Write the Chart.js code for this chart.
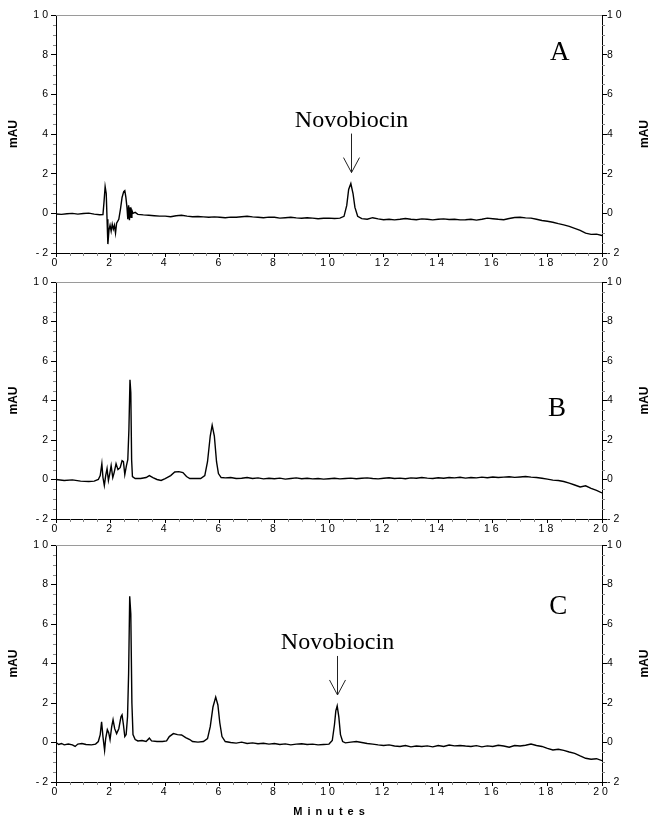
<!DOCTYPE html>
<html>
<head>
<meta charset="utf-8">
<script src="https://cdn.jsdelivr.net/npm/chart.js@4.4.1/dist/chart.umd.min.js"></script>
<style>
  html, body { margin: 0; padding: 0; background: #fff; }
  #wrap { position: relative; width: 649px; height: 821px; overflow: hidden; }
  #wrap canvas { position: absolute; left: 0; }
</style>
</head>
<body>
<div id="wrap">
  <canvas id="panelA" width="649" height="280" style="top:0px"></canvas>
  <canvas id="panelB" width="649" height="279" style="top:267px"></canvas>
  <canvas id="panelC" width="649" height="291" style="top:530px"></canvas>
</div>
<script>
// axis ticks
const xTicks = [0, 2, 4, 6, 8, 10, 12, 14, 16, 18, 20];
const yTicks = [-2, 0, 2, 4, 6, 8, 10];
const panelLabels = ['A', 'B', 'C'];
const peakName = 'Novobiocin';
const axisTitle = 'mAU';
const xTitle = 'Minutes';

// trace A (minutes / mAU)
const timesA = [
  0, 0.2, 0.4, 0.6, 0.8, 1.0, 1.2, 1.4, 1.6, 1.72,
  1.76, 1.8, 1.84, 1.87, 1.9, 1.94, 1.98, 2.02, 2.06, 2.1,
  2.14, 2.18, 2.22, 2.3, 2.36, 2.42, 2.48, 2.52, 2.56, 2.6,
  2.63, 2.66, 2.69, 2.72, 2.75, 2.78, 2.82, 2.9, 3.0, 3.2,
  3.4, 3.6, 3.8, 4.0, 4.2, 4.4, 4.6, 4.8, 5.0, 5.2,
  5.4, 5.6, 5.8, 6.0, 6.2, 6.4, 6.6, 6.8, 7.0, 7.2,
  7.4, 7.6, 7.8, 8.0, 8.2, 8.4, 8.6, 8.8, 9.0, 9.2,
  9.4, 9.6, 9.8, 10.0, 10.2, 10.4, 10.55, 10.65, 10.72, 10.8,
  10.88, 10.95, 11.05, 11.2, 11.4, 11.6, 11.8, 12.0, 12.2, 12.4,
  12.6, 12.8, 13.0, 13.2, 13.4, 13.6, 13.8, 14.0, 14.2, 14.4,
  14.6, 14.8, 15.0, 15.2, 15.4, 15.6, 15.8, 16.0, 16.2, 16.4,
  16.6, 16.8, 17.0, 17.2, 17.4, 17.6, 17.8, 18.0, 18.2, 18.4,
  18.6, 18.8, 19.0, 19.2, 19.4, 19.6, 19.8, 20.0
];
const valuesA = [
  -0.03, -0.05, -0.02, 0.0, -0.04, -0.01, 0.01, -0.04, -0.07, -0.06,
  0.6, 1.35, 1.0, -0.3, -1.55, -0.85, -0.6, -0.9, -0.55, -0.8,
  -0.6, -1.0, -0.5, -0.3, 0.2, 0.8, 1.1, 1.15, 0.8, 0.3,
  -0.3, 0.4, -0.35, 0.3, -0.2, 0.15, 0.0, 0.05, -0.05, -0.08,
  -0.1, -0.12, -0.14, -0.14, -0.17, -0.12, -0.1, -0.14, -0.17, -0.16,
  -0.18, -0.2, -0.18, -0.2, -0.22, -0.19, -0.2, -0.17, -0.15, -0.18,
  -0.2, -0.22, -0.19, -0.2, -0.24, -0.22, -0.2, -0.23, -0.25, -0.22,
  -0.24, -0.27, -0.25, -0.24, -0.26, -0.24, -0.15, 0.4, 1.2, 1.5,
  1.0, 0.3, -0.15, -0.27, -0.3, -0.22, -0.28, -0.32, -0.3, -0.33,
  -0.3, -0.26, -0.3, -0.32, -0.28, -0.3, -0.33, -0.3, -0.28, -0.31,
  -0.3, -0.33, -0.32, -0.3, -0.34, -0.3, -0.24, -0.27, -0.3, -0.32,
  -0.26, -0.21, -0.2, -0.23, -0.24, -0.3, -0.36, -0.4, -0.45, -0.52,
  -0.58, -0.66, -0.76, -0.86, -1.0, -1.06, -1.05, -1.12
];

// trace B
const timesB = [
  0, 0.3, 0.6, 0.9, 1.2, 1.4, 1.55, 1.62, 1.68, 1.72,
  1.77, 1.82, 1.87, 1.92, 1.97, 2.02, 2.08, 2.13, 2.2, 2.27,
  2.35, 2.42, 2.47, 2.52, 2.58, 2.63, 2.67, 2.71, 2.74, 2.77,
  2.8, 2.9, 3.1, 3.3, 3.42, 3.55, 3.7, 3.85, 4.0, 4.2,
  4.35, 4.5, 4.65, 4.78, 4.9, 5.1, 5.3, 5.45, 5.55, 5.65,
  5.72, 5.8, 5.88, 5.95, 6.05, 6.2, 6.4, 6.6, 6.8, 7.0,
  7.2, 7.4, 7.6, 7.8, 8.0, 8.2, 8.4, 8.6, 8.8, 9.0,
  9.2, 9.4, 9.6, 9.8, 10.0, 10.2, 10.4, 10.6, 10.8, 11.0,
  11.2, 11.4, 11.6, 11.8, 12.0, 12.2, 12.4, 12.6, 12.8, 13.0,
  13.2, 13.4, 13.6, 13.8, 14.0, 14.2, 14.4, 14.6, 14.8, 15.0,
  15.2, 15.4, 15.6, 15.8, 16.0, 16.2, 16.4, 16.6, 16.8, 17.0,
  17.2, 17.4, 17.6, 17.8, 18.0, 18.2, 18.4, 18.6, 18.8, 19.0,
  19.2, 19.4, 19.6, 19.8, 20.0
];
const valuesB = [
  0.0, -0.05, -0.02, -0.08, -0.1, -0.08, 0.0, 0.2, 0.8, 0.1,
  -0.3, 0.2, 0.55, -0.05, 0.3, 0.7, 0.1, 0.35, 0.8, 0.5,
  0.6, 0.95, 0.9, 0.25, 0.7, 1.0, 2.5, 5.05, 4.4, 1.0,
  0.15, 0.05, 0.05, 0.1, 0.2, 0.1, 0.0, -0.05, 0.05, 0.2,
  0.38, 0.4, 0.35, 0.15, 0.05, 0.05, 0.05, 0.2, 0.9, 2.2,
  2.75, 2.2, 0.9, 0.3, 0.1, 0.08, 0.1, 0.05, 0.06, 0.1,
  0.05, 0.08, 0.03, 0.06, 0.04, 0.07, 0.02, 0.05, 0.08, 0.04,
  0.06, 0.03, 0.05, 0.02, 0.04, 0.06, 0.03, 0.05, 0.07, 0.04,
  0.06, 0.08, 0.05, 0.03, 0.06, 0.09, 0.05, 0.07, 0.04, 0.08,
  0.06, 0.1, 0.07, 0.05, 0.09, 0.06, 0.1, 0.08, 0.11, 0.07,
  0.1, 0.08, 0.12, 0.09, 0.13, 0.1, 0.12, 0.14, 0.11, 0.13,
  0.15, 0.12, 0.1, 0.06, 0.02, -0.03, -0.05, -0.1, -0.18, -0.28,
  -0.38, -0.32, -0.45, -0.55, -0.68
];

// trace C
const timesC = [
  0, 0.1, 0.2, 0.3, 0.45, 0.6, 0.7, 0.8, 0.95, 1.1,
  1.3, 1.45, 1.55, 1.62, 1.67, 1.72, 1.78, 1.82, 1.88, 1.93,
  1.98, 2.04, 2.09, 2.15, 2.22, 2.3, 2.38, 2.42, 2.47, 2.52,
  2.57, 2.62, 2.66, 2.7, 2.74, 2.78, 2.82, 2.9, 3.0, 3.15,
  3.3, 3.42, 3.5, 3.7, 3.9, 4.05, 4.15, 4.3, 4.45, 4.6,
  4.75, 4.9, 5.0, 5.2, 5.4, 5.55, 5.65, 5.75, 5.85, 5.93,
  6.0, 6.08, 6.2, 6.4, 6.6, 6.8, 7.0, 7.2, 7.4, 7.6,
  7.8, 8.0, 8.2, 8.4, 8.6, 8.8, 9.0, 9.2, 9.4, 9.6,
  9.8, 10.0, 10.12, 10.2, 10.25, 10.3, 10.36, 10.42, 10.5, 10.6,
  10.8, 11.0, 11.2, 11.4, 11.6, 11.8, 12.0, 12.2, 12.4, 12.6,
  12.8, 13.0, 13.2, 13.4, 13.6, 13.8, 14.0, 14.2, 14.4, 14.6,
  14.8, 15.0, 15.2, 15.4, 15.6, 15.8, 16.0, 16.2, 16.4, 16.6,
  16.8, 17.0, 17.2, 17.4, 17.6, 17.8, 18.0, 18.2, 18.4, 18.6,
  18.8, 19.0, 19.2, 19.4, 19.6, 19.8, 20.0
];
const valuesC = [
  0.0, -0.1, -0.05, -0.12, -0.08, -0.12, -0.2, -0.08, -0.05, -0.1,
  -0.12, -0.08, 0.05, 0.4, 1.05, 0.3, -0.4, 0.2, 0.65, 0.5,
  0.15, 0.8, 1.15, 0.7, 0.45, 0.7, 1.3, 1.4, 0.9, 0.3,
  0.4, 1.3, 3.5, 7.4, 6.5, 2.0, 0.4, 0.15, 0.08, 0.1,
  0.05, 0.22, 0.08, 0.05, 0.05, 0.08, 0.3, 0.45, 0.4, 0.38,
  0.25, 0.15, 0.05, 0.02, 0.05, 0.2, 0.8, 1.8, 2.3, 1.9,
  1.0, 0.3, 0.05, 0.0, -0.03, 0.02, -0.05, -0.02, -0.06, -0.04,
  -0.08, -0.05, -0.1, -0.07, -0.12, -0.08, -0.06, -0.1, -0.08, -0.12,
  -0.1, -0.08, 0.1, 0.9, 1.6, 1.85, 1.3, 0.4, 0.05, -0.02,
  0.02, 0.05, 0.0, -0.05, -0.08, -0.12, -0.15, -0.12, -0.18, -0.2,
  -0.15, -0.22, -0.18, -0.2, -0.17, -0.22, -0.15, -0.2, -0.13, -0.17,
  -0.15, -0.18, -0.2, -0.16, -0.22, -0.17, -0.2, -0.14, -0.18, -0.24,
  -0.15, -0.18, -0.14, -0.08, -0.15, -0.2, -0.3, -0.38, -0.34, -0.4,
  -0.48, -0.55, -0.68, -0.8, -0.85, -0.82, -0.92
];

// peak marked by the arrow (minutes, mAU)
const markA = { t: 10.8, v: 1.5 };
const markC = { t: 10.3, v: 1.85 };

const SANS = '"Liberation Sans", Arial, sans-serif';
const SERIF = '"Liberation Serif", "Times New Roman", serif';

const toPoints = (ts, vs) => ts.map((t, i) => ({ x: t, y: vs[i] }));

// frame extras: grey top line, minor ticks, titles, panel letter, peak arrow
const decorPlugin = {
  id: 'decor',
  beforeDraw(chart) {
    chart.ctx.letterSpacing = '3px';
  },
  afterDraw(chart, args, opts) {
    const { ctx, chartArea: area } = chart;
    const x = chart.scales.x, y = chart.scales.y;
    ctx.save();
    ctx.letterSpacing = '0px';

    ctx.lineWidth = 1;
    ctx.strokeStyle = '#9a9a9a';
    ctx.beginPath();
    ctx.moveTo(area.left, area.top + 0.5);
    ctx.lineTo(area.right, area.top + 0.5);
    ctx.stroke();

    // minor ticks every 0.5
    ctx.strokeStyle = '#888';
    ctx.beginPath();
    for (let v = yTicks[0]; v <= yTicks[yTicks.length - 1]; v += 0.5) {
      if (v % 2 === 0) continue;
      const py = Math.round(y.getPixelForValue(v)) + 0.5;
      ctx.moveTo(area.left - 3, py); ctx.lineTo(area.left, py);
      ctx.moveTo(area.right, py); ctx.lineTo(area.right + 3, py);
    }
    for (let t = xTicks[0]; t <= xTicks[xTicks.length - 1]; t += 0.5) {
      if (t % 2 === 0) continue;
      const px = Math.round(x.getPixelForValue(t)) + 0.5;
      ctx.moveTo(px, area.bottom); ctx.lineTo(px, area.bottom + 3);
    }
    ctx.stroke();

    // mAU on both sides
    ctx.fillStyle = '#000';
    ctx.font = 'bold 12px ' + SANS;
    ctx.textAlign = 'center';
    ctx.textBaseline = 'middle';
    const midY = (area.top + area.bottom) / 2;
    [14, 645].forEach(cx => {
      ctx.save();
      ctx.translate(cx, midY);
      ctx.rotate(-Math.PI / 2);
      ctx.fillText(axisTitle, 0, 0);
      ctx.restore();
    });

    // panel letter
    ctx.font = '27px ' + SERIF;
    ctx.fillText(opts.letter, x.getPixelForValue(opts.letterAt[0]), y.getPixelForValue(opts.letterAt[1]));

    // peak arrow + name
    if (opts.mark) {
      const px = Math.round(x.getPixelForValue(opts.mark.t)) + 0.5;
      const peakY = y.getPixelForValue(opts.mark.v);
      const tip = peakY - 11, top = peakY - 50;
      ctx.strokeStyle = '#222';
      ctx.beginPath();
      ctx.moveTo(px, top); ctx.lineTo(px, tip);
      ctx.moveTo(px - 8, tip - 15); ctx.lineTo(px, tip); ctx.lineTo(px + 8, tip - 15);
      ctx.stroke();
      ctx.font = '24px ' + SERIF;
      ctx.textBaseline = 'alphabetic';
      ctx.fillText(peakName, px, top - 7);
    }

    if (opts.xTitle) {
      ctx.font = 'bold 11px ' + SANS;
      ctx.letterSpacing = '5px';
      ctx.textBaseline = 'middle';
      ctx.fillText(xTitle, (area.left + area.right) / 2 + 2.5, area.bottom + 30);
    }
    ctx.restore();
  }
};

function makePanel(id, times, values, axisH, decor) {
  const tickFont = { family: SANS, size: 10.5 };
  const yAxis = (pos, w) => ({
    position: pos,
    min: yTicks[0],
    max: yTicks[yTicks.length - 1],
    afterBuildTicks: s => { s.ticks = yTicks.map(v => ({ value: v })); },
    ticks: { color: '#000', font: tickFont, padding: 0 },
    grid: { drawOnChartArea: false, tickLength: 5, color: '#000' },
    border: { color: '#000', width: 1 },
    afterFit: s => { s.width = w; }
  });

  return new Chart(document.getElementById(id), {
    type: 'line',
    data: {
      datasets: [{
        data: toPoints(times, values),
        borderColor: '#000',
        borderWidth: 1.4,
        pointRadius: 0,
        tension: 0,
        yAxisID: 'y'
      }]
    },
    options: {
      responsive: false,
      animation: false,
      events: [],
      layout: { padding: { top: 15, left: 0, right: 0, bottom: 0 } },
      plugins: { legend: { display: false }, tooltip: { enabled: false }, decor },
      scales: {
        x: {
          type: 'linear',
          position: 'bottom',
          min: xTicks[0],
          max: xTicks[xTicks.length - 1],
          afterBuildTicks: s => { s.ticks = xTicks.map(v => ({ value: v })); },
          ticks: { color: '#000', font: tickFont, padding: 0, maxRotation: 0, autoSkip: false },
          grid: { drawOnChartArea: false, tickLength: 4, color: '#000' },
          border: { color: '#000', width: 1 },
          afterFit: s => { s.height = axisH; }
        },
        y: yAxis('left', 56),
        y2: yAxis('right', 47)
      }
    },
    plugins: [decorPlugin]
  });
}

makePanel('panelA', timesA, valuesA, 27, { letter: panelLabels[0], letterAt: [18.45, 8.1], mark: markA });
makePanel('panelB', timesB, valuesB, 27, { letter: panelLabels[1], letterAt: [18.35, 3.55] });
makePanel('panelC', timesC, valuesC, 39, { letter: panelLabels[2], letterAt: [18.4, 6.85], mark: markC, xTitle: true });
</script>
</body>
</html>
